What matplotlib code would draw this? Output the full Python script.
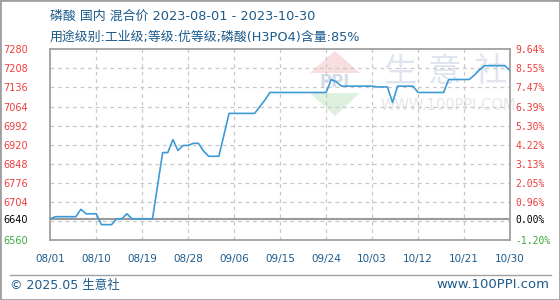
import numpy as np
import pandas as pd
import matplotlib
matplotlib.use("Agg")
from matplotlib import pyplot as plt
from matplotlib.patches import Polygon, Rectangle
from matplotlib.lines import Line2D

CJK = ['Noto Sans CJK SC', 'DejaVu Sans']
MIX = ['DejaVu Sans', 'Noto Sans CJK SC']
plt.rcParams['font.family'] = ['DejaVu Sans']

# price vertices
dates = ['2023-08-01', '2023-08-02', '2023-08-06', '2023-08-07', '2023-08-08',
         '2023-08-10', '2023-08-11', '2023-08-13', '2023-08-14', '2023-08-15',
         '2023-08-16', '2023-08-17', '2023-08-21', '2023-08-23', '2023-08-24',
         '2023-08-25', '2023-08-26', '2023-08-27', '2023-08-28', '2023-08-29',
         '2023-08-30', '2023-08-31', '2023-09-01', '2023-09-03', '2023-09-05',
         '2023-09-10', '2023-09-11', '2023-09-12', '2023-09-13', '2023-09-24',
         '2023-09-25', '2023-09-26', '2023-09-27', '2023-10-03', '2023-10-04',
         '2023-10-06', '2023-10-07', '2023-10-08', '2023-10-11', '2023-10-12',
         '2023-10-17', '2023-10-18', '2023-10-22', '2023-10-23', '2023-10-24',
         '2023-10-25', '2023-10-29', '2023-10-30']
prices = [6640, 6648, 6648, 6676, 6659,
          6659, 6618, 6618, 6640, 6640,
          6659, 6640, 6640, 6890, 6890,
          6939, 6898, 6917, 6917, 6925,
          6925, 6896, 6876, 6876, 7038,
          7038, 7063, 7088, 7117, 7117,
          7166, 7157, 7141, 7141, 7138,
          7138, 7079, 7141, 7141, 7117,
          7117, 7166, 7166, 7182, 7202,
          7218, 7218, 7200]

base = 6640
y_min, y_max = 6560, 7280
grid_vals = list(range(6632, 7280, 72))
label_vals = [6560, 6640] + list(range(6704, 7281, 72))

title1 = '磷酸 国内 混合价 2023-08-01 - 2023-10-30'
title2 = '用途级别:工业级;等级:优等级;磷酸(H3PO4)含量:85%'

x = pd.to_datetime(dates)
ticks = pd.date_range('2023-08-01', '2023-10-30', freq='9D')

W, H = 560, 300
fig = plt.figure(figsize=(W / 100, H / 100), dpi=100)


def fx(px):
    return px / W


def fy(py):
    return 1 - py / H


# watermark
fig.add_artist(Polygon([(fx(310), fy(73)), (fx(360), fy(73)), (fx(335), fy(51))],
                       closed=True, facecolor='#f8dede', edgecolor='none', zorder=-2))
fig.add_artist(Polygon([(fx(310), fy(93)), (fx(360), fy(93)), (fx(335), fy(116))],
                       closed=True, facecolor='#def0de', edgecolor='none', zorder=-2))
fig.text(fx(335), fy(82), 'PPI', ha='center', va='center', fontsize=12,
         fontweight='bold', color='#d4dcea', zorder=-2)
for cx, ch in zip([400, 445, 490], '生意社'):
    fig.text(fx(cx), fy(72), ch, ha='center', va='center', fontsize=24,
             family=CJK, color='#dfe4ee', zorder=-2)
fig.text(fx(448), fy(106), 'WWW.100PPI.COM', ha='center', va='center', fontsize=10.5,
         color='#e6e6e6', zorder=-2)

ax = fig.add_axes([fx(50.3), fy(240), fx(510) - fx(50.3), fy(49.3) - fy(240)])
ax.set_facecolor('none')

for v in grid_vals:
    ax.axhline(v, color='#c8c8c8', lw=0.9, ls=(0, (3, 3)), zorder=1)
for t in ticks[1:-1]:
    ax.axvline(t, color='#c8c8c8', lw=0.9, ls=(0, (3, 3)), zorder=1)
ax.axhline(base, color='#9a9a9a', lw=1.5, zorder=1.5)

ax.plot(x, prices, color='#3d9ad6', lw=1.2, zorder=3)

ax.set_xlim(x[0], x[-1])
ax.set_ylim(y_min, y_max)

for s in ax.spines.values():
    s.set_color('#a0a0a0')
    s.set_linewidth(1.3)

ax.set_xticks(ticks)
ax.set_xticklabels([t.strftime('%m/%d') for t in ticks])
ax.tick_params(axis='x', length=0, pad=10, labelsize=7.5, labelcolor='#1c5b8c')


def lab_color(v):
    if v > base:
        return '#f03c3c'
    if v < base:
        return '#3aaa3a'
    return '#000000'


ax.set_yticks(label_vals)
ax.set_yticklabels([str(v) for v in label_vals])
ax.tick_params(axis='y', length=0, pad=16, labelsize=7)
for lab, v in zip(ax.get_yticklabels(), label_vals):
    lab.set_color(lab_color(v))

ax2 = ax.twinx()
ax2.set_ylim(y_min, y_max)
ax2.set_yticks(label_vals)
ax2.set_yticklabels([f'{(v - base) / base * 100:.2f}%' for v in label_vals],
                    family='DejaVu Sans Mono')
ax2.tick_params(axis='y', length=0, pad=4, labelsize=7)
for lab, v in zip(ax2.get_yticklabels(), label_vals):
    lab.set_color(lab_color(v))
for s in ax2.spines.values():
    s.set_visible(False)

# titles
fig.text(fx(50), fy(16), title1, ha='left', va='center', fontsize=9.3,
         family=MIX, color='#1c5b8c')
fig.text(fx(50), fy(37.5), title2, ha='left', va='center', fontsize=9.3,
         family=MIX, color='#1c5b8c')

# footer
fig.add_artist(Line2D([fx(10), fx(551)], [fy(275), fy(275)], color='#a0a0a0', lw=1))
fig.text(fx(10.5), fy(285), '© 2025.05 生意社', ha='left', va='center', fontsize=9,
         family=MIX, color='#1c5b8c')
fig.text(fx(549), fy(285), 'www.100PPI.com', ha='right', va='center', fontsize=9.5,
         color='#1c5b8c')

fig.add_artist(Rectangle((0, 0), 1, 1, transform=fig.transFigure, fill=False,
                         edgecolor='#a0a0a0', lw=2))

fig.savefig('out.png', dpi=100)
